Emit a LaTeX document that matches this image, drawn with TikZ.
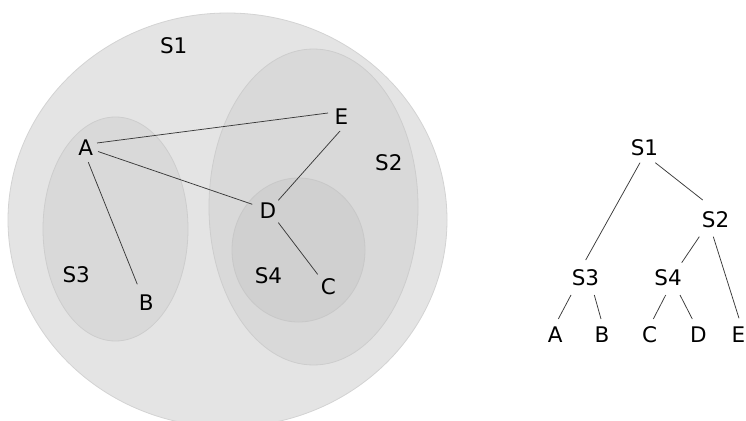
\documentclass[tikz,border=0pt]{standalone}
\usepackage{fontspec}
\setmainfont{DejaVu Sans}
\definecolor{fillA}{HTML}{E4E4E4}
\definecolor{drawA}{HTML}{D3D3D3}
\definecolor{fillB}{HTML}{D9D9D9}
\definecolor{drawB}{HTML}{CDCDCD}
\definecolor{fillC}{HTML}{D0D0D0}
\definecolor{drawC}{HTML}{C8C8C8}
\definecolor{edgecol}{HTML}{3A3A3A}
\tikzset{
  lbl/.style={inner sep=0pt, font=\fontsize{21.5}{25}\selectfont},
  edge/.style={draw=edgecol, line width=0.75pt},
  setA/.style={fill=fillA, draw=drawA, line width=0.8pt},
  setB/.style={fill=fillB, draw=drawB, line width=0.8pt},
  setC/.style={fill=fillC, draw=drawC, line width=0.8pt},
}
\begin{document}
\begin{tikzpicture}[x=1pt,y=-1pt]
\useasboundingbox (0,0) rectangle (746,420);
\fill[white] (0,0) rectangle (746,420);
% sets
\draw[setA] (227.5,220) ellipse [x radius=219.5, y radius=207];
\draw[setB] (115.5,229) ellipse [x radius=72.5, y radius=112];
\draw[setB] (313.5,207) ellipse [x radius=104.5, y radius=158];
\draw[setC] (298.5,250) ellipse [x radius=66.5, y radius=72];
% set labels
\node[lbl] (lS1) at (173.7,45.3) {S1};
\node[lbl] (lS2) at (388.8,162.8) {S2};
\node[lbl] (lS3) at (76.2,274.2) {S3};
\node[lbl] (lS4) at (268.5,275.8) {S4};
% graph nodes
\node[lbl] (A) at (85.8,147.2) {A};
\node[lbl] (B) at (146.3,302.3) {B};
\node[lbl] (C) at (328.5,286.7) {C};
\node[lbl] (D) at (268,210.3) {D};
\node[lbl] (E) at (341.3,116.3) {E};
\draw[edge] ([shift={(11.2,-4.2)}]A.center) -- ([shift={(-13.3,-3.3)}]E.center);
\draw[edge] ([shift={(12.2,4.3)}]A.center) -- ([shift={(-15.7,-6)}]D.center);
\draw[edge] ([shift={(2.5,15)}]A.center) -- ([shift={(-9,-18)}]B.center);
\draw[edge] ([shift={(10.3,-10)}]D.center) -- ([shift={(-1.3,14.7)}]E.center);
\draw[edge] ([shift={(10.3,12.3)}]D.center) -- ([shift={(-10.8,-12.3)}]C.center);
% tree
\node[lbl] (tS1) at (644.5,148) {S1};
\node[lbl] (tS2) at (715.5,219.5) {S2};
\node[lbl] (tS3) at (585.5,278) {S3};
\node[lbl] (tS4) at (668,278) {S4};
\node[lbl] (tA) at (555.3,335) {A};
\node[lbl] (tB) at (602,335) {B};
\node[lbl] (tC) at (649.7,335) {C};
\node[lbl] (tD) at (698.3,335) {D};
\node[lbl] (tE) at (738.5,335) {E};
\draw[edge] ([shift={(-4.5,14.7)}]tS1.center) -- ([shift={(0.2,-18)}]tS3.center);
\draw[edge] ([shift={(10.8,14.7)}]tS1.center) -- ([shift={(-12.8,-19.5)}]tS2.center);
\draw[edge] ([shift={(-16.2,17.2)}]tS2.center) -- ([shift={(13.7,-15.3)}]tS4.center);
\draw[edge] ([shift={(-2.2,17.2)}]tS2.center) -- ([shift={(0.5,-16.7)}]tE.center);
\draw[edge] ([shift={(-14.5,17)}]tS3.center) -- ([shift={(3,-16)}]tA.center);
\draw[edge] ([shift={(8.8,17)}]tS3.center) -- ([shift={(-1,-16)}]tB.center);
\draw[edge] ([shift={(-2.3,17)}]tS4.center) -- ([shift={(3.6,-16)}]tC.center);
\draw[edge] ([shift={(12,17)}]tS4.center) -- ([shift={(-6,-16)}]tD.center);
\end{tikzpicture}
\end{document}
